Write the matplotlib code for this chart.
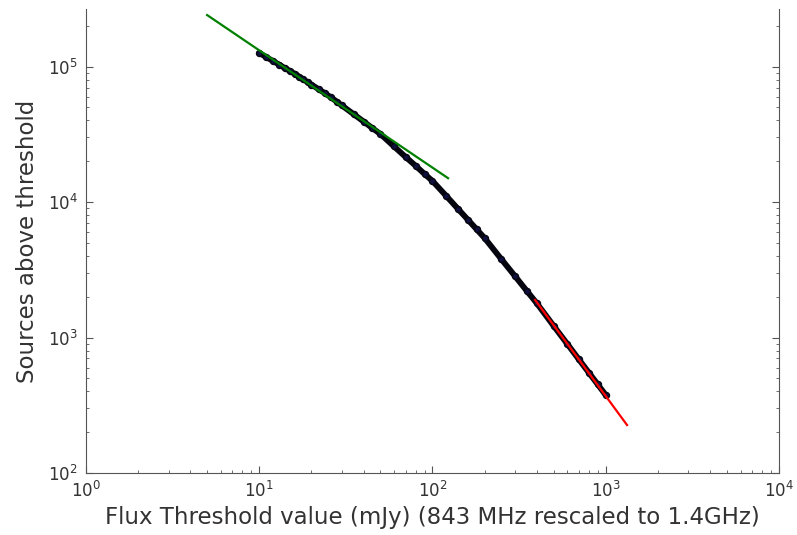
import matplotlib
matplotlib.use("Agg")
import matplotlib.pyplot as plt

# cumulative source counts
flux_mjy = [10, 11, 12, 13, 14, 15, 16, 17, 18, 19, 20, 22, 24, 26, 28, 30, 35, 40, 45, 50,
            60, 70, 80, 90, 100, 120, 140, 160, 180, 200, 250, 300, 350, 400,
            500, 600, 700, 800, 900, 1000]
n_above = [126000, 117200, 109900, 103500, 97700, 92900, 88500, 84200, 80300, 76800, 73600,
           68100, 63400, 59100, 55100, 51600, 44600, 39300, 35100, 31800,
           25700, 21500, 18500, 16100, 14300, 11100, 8930, 7410, 6280, 5420,
           3780, 2830, 2210, 1790, 1220, 896, 689, 549, 450, 376]

# power-law fits (end points)
faint_fit_x = [5, 123]
faint_fit_y = [240000, 15000]
bright_fit_x = [391, 1327]
bright_fit_y = [1893, 226]

fig = plt.figure(figsize=(7.97, 5.35), dpi=100)
ax = fig.add_axes([0.1079, 0.1159, 0.8695, 0.8673])

ax.plot(flux_mjy, n_above, "-", color="#050510", lw=4.2, zorder=2,
        solid_capstyle="round")
ax.plot(flux_mjy, n_above, "o", ms=4.3, mfc="#101040", mec="#050510", mew=1, zorder=3)
ax.plot(faint_fit_x, faint_fit_y, "-", color="#008000", lw=1.6, zorder=4)
ax.plot(bright_fit_x, bright_fit_y, "-", color="#ff0000", lw=1.6, zorder=4)

ax.set_xscale("log")
ax.set_yscale("log")
ax.set_xlim(1, 1e4)
ax.set_ylim(1e2, 2.66e5)

ax.spines["top"].set_visible(False)
for s in ["left", "right", "bottom"]:
    ax.spines[s].set_color("#555555")
ax.tick_params(which="both", direction="in", top=False, right=True, colors="#555555",
               labelcolor="#333333", labelsize=12)
ax.tick_params(which="major", length=5, pad=6)
ax.tick_params(which="minor", length=2.5)

ax.set_xlabel("Flux Threshold value (mJy) (843 MHz rescaled to 1.4GHz)", fontsize=16.5,
              color="#333333", labelpad=3)
ax.set_ylabel("Sources above threshold", fontsize=16.5, color="#333333", labelpad=6)

fig.savefig("out.png", dpi=100)
